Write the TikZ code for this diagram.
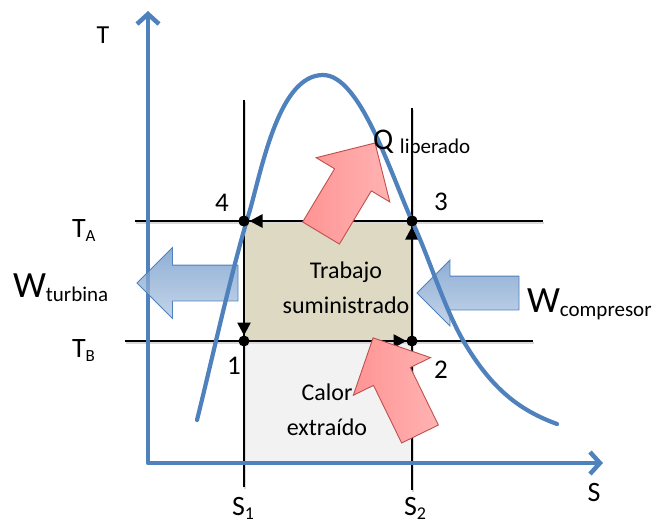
\documentclass[tikz,border=0pt]{standalone}
\usepackage{fontspec}
\setmainfont{Carlito}
\usetikzlibrary{arrows.meta,positioning,shapes.arrows}

\definecolor{axisblue}{RGB}{79,129,189}
\definecolor{cyclefill}{RGB}{221,217,195}
\definecolor{calorfill}{RGB}{242,242,242}
\definecolor{redline}{RGB}{192,80,77}
\newcommand{\lowsub}[2][18]{\raisebox{-4pt}{\fontsize{#1}{#1}\selectfont #2}}

\begin{document}
\begin{tikzpicture}[x=1pt, y=-1pt,
	every node/.style={inner sep=0pt, outer sep=0pt, font=\fontsize{27}{30}\selectfont},
	guide/.style={line width=1.5pt, preaction={draw=black!15, line width=2pt, transform canvas={shift={(1.2,1.8)}}}},
	axis/.style={line width=4.5pt, axisblue, line join=round, {Straight Barb[length=10pt,width=22pt]}-{Straight Barb[length=10pt,width=22pt]}},
	dome/.style={line width=4.2pt, axisblue, line cap=round},
	cycleedge/.style={line width=2.6pt, -{Triangle[length=13pt,width=13pt]}},
	dot/.style={circle, fill, minimum size=11pt},
	bluearrow/.style={single arrow, draw=axisblue, line width=0.8pt, top color=axisblue!85!white, bottom color=axisblue!45!white, fill opacity=0.75, minimum width=0pt, anchor=tail},
	redarrow/.style={single arrow, draw=redline, line width=0.9pt, left color=red!42!white, right color=red!30!white, minimum width=0pt, anchor=tail},
	boxtext/.style={align=center, font=\fontsize{24}{35}\selectfont}]
	\useasboundingbox (0,0) rectangle (664,523);

	% regions
	\fill[cyclefill] (244,221) rectangle (412,341);
	\draw[axisblue, line width=1pt, fill=calorfill] (245,341) rectangle (413,463);

	% guide lines
	\coordinate (ta-l) at (135,221);
	\coordinate (ta-r) at (543,221);
	\coordinate (tb-l) at (125,341);
	\coordinate (tb-r) at (533,341);
	\coordinate (s1-t) at (244,100);
	\coordinate (s1-b) at (244,487);
	\coordinate (s2-t) at (412,108);
	\coordinate (s2-b) at (412,490);
	\draw[guide] (ta-l) -- (ta-r);
	\draw[guide] (tb-l) -- (tb-r);
	\draw[guide] (s1-t) -- (s1-b);
	\draw[guide] (s2-t) -- (s2-b);

	% axes
	\coordinate (origin) at (148,463);
	\coordinate (t-end) at (148,11);
	\coordinate (s-end) at (603,463);
	\draw[axis] (t-end) -- (origin) -- (s-end);

	% cycle
	\node[dot] (p1) at (244,341) {};
	\node[dot] (p2) at (412,341) {};
	\node[dot] (p3) at (412,221) {};
	\node[dot] (p4) at (244,221) {};
	\draw[cycleedge] (p1) -- (p2);
	\draw[cycleedge] (p2) -- (p3);
	\draw[cycleedge] (p3) -- (p4);
	\draw[cycleedge] (p4) -- (p1);

	% work and heat arrows
	\node[bluearrow, rotate=180, minimum height=101pt, inner sep=17.5pt, single arrow head extend=17.5pt] (wturb) at (238,283) {};
	\node[bluearrow, rotate=180, minimum height=102pt, inner sep=16.5pt, single arrow head extend=16pt] (wcomp) at (519,293) {};
	\node[redarrow, rotate=59, minimum height=105pt, inner sep=21pt, single arrow head extend=21.5pt] (qlib) at (321,233) {};
	\node[redarrow, rotate=116, minimum height=107pt, inner sep=20pt, single arrow head extend=22.5pt] (qext) at (420,434) {};

	% saturation dome
	\draw[dome] (197,420) .. controls (212,360) and (232,268) .. (250,210)
		.. controls (263,163) and (280,75) .. (323,75)
		.. controls (360,75) and (390,172) .. (412,221)
		.. controls (429,257) and (444,308) .. (464,342)
		.. controls (492,389) and (519,410) .. (557,424);
	\node[dot] at (p3) {};
	\node[dot] at (p4) {};

	% labels
	\node[font=\fontsize{26}{30}\selectfont] (tlabel) at (103,35) {T};
	\node[font=\fontsize{28}{30}\selectfont] (slabel) at (594,493) {S};
	\node[anchor=base west, font=\fontsize{28}{30}\selectfont] (talabel) at (72,237) {T\lowsub[17]{A}};
	\node[anchor=base west, font=\fontsize{28}{30}\selectfont] (tblabel) at (72,357) {T\lowsub[17]{B}};
	\node[anchor=base west, font=\fontsize{28}{30}\selectfont] (s1label) at (232,515) {S\lowsub[18]{1}};
	\node[anchor=base west, font=\fontsize{28}{30}\selectfont] (s2label) at (404,515) {S\lowsub[18]{2}};
	\node (n4) at (222,203) {4};
	\node (n3) at (441,202) {3};
	\node (n1) at (234,366) {1};
	\node (n2) at (441,370) {2};
	\node[anchor=base west, font=\fontsize{37}{40}\selectfont] (wtlabel) at (13,297) {W\lowsub[21]{turbina}};
	\node[anchor=base west, font=\fontsize{37}{40}\selectfont] (wclabel) at (527,312) {W\lowsub[21]{compresor}};
	\node[anchor=base west, font=\fontsize{30}{32}\selectfont] (qlabel) at (373,149) {Q \lowsub[21]{liberado}};
	\node[boxtext] (work) at (346,288) {Trabajo\\suministrado};
	\node[boxtext] (heat) at (327,410) {Calor\\extraído};
\end{tikzpicture}
\end{document}
